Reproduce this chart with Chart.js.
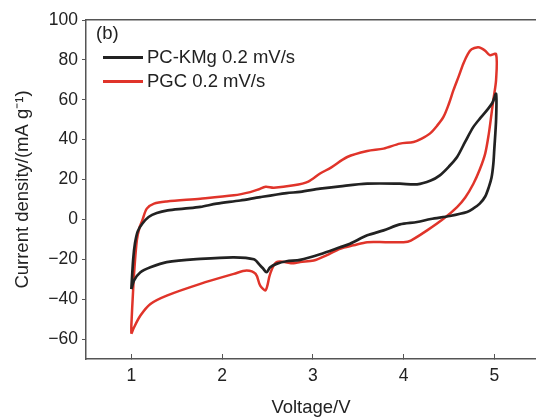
<!DOCTYPE html>
<html>
<head>
<meta charset="utf-8">
<script src="https://cdn.jsdelivr.net/npm/chart.js@4.4.0/dist/chart.umd.min.js"></script>
<style>
  html, body { margin: 0; padding: 0; background: #fff; }
  #wrap { position: relative; width: 536px; height: 419px; }
  .lbl { position: absolute; font-family: 'Liberation Sans', Arial, sans-serif; font-size: 18.5px; color: #222; line-height: 20px; white-space: nowrap; }
  .sw { position: absolute; width: 40px; height: 3px; }
</style>
</head>
<body>
<div id="wrap">
  <canvas id="cv" width="536" height="419"></canvas>
  <div class="lbl" style="left:96px; top:23px;">(b)</div>
  <div class="sw" style="left:103px; top:55.5px; background:#222;"></div>
  <div class="lbl" style="left:147px; top:47px;">PC-KMg 0.2 mV/s</div>
  <div class="sw" style="left:103px; top:79.5px; background:#e0342a;"></div>
  <div class="lbl" style="left:147px; top:71px;">PGC 0.2 mV/s</div>
</div>
<script>
// PC-KMg loop: anodic (upper) then cathodic (lower) branch
const kmgVoltage = [
  1.00, 1.02, 1.04, 1.07, 1.12, 1.19, 1.28, 1.40, 1.58, 1.76, 1.94, 2.20, 2.42, 2.71, 2.86, 3.08,
  3.30, 3.60, 3.96, 4.15, 4.30, 4.40, 4.50, 4.59, 4.68, 4.77, 4.85, 4.92, 4.98, 5.02,
  5.02, 5.00, 4.99, 4.97, 4.94, 4.90, 4.84, 4.77, 4.70, 4.51, 4.30, 4.15, 3.96, 3.78, 3.60, 3.41,
  3.30, 3.08, 2.86, 2.71, 2.60, 2.53, 2.49, 2.45, 2.42, 2.35, 2.13, 1.76, 1.39, 1.21, 1.10, 1.03, 1.00
];
const kmgCurrent = [
  -35, -20, -12, -6, -2.2, 1.2, 3.2, 4.5, 5.4, 6.3, 7.9, 9.5, 11.2, 13.2, 13.8, 15.4,
  16.6, 17.9, 17.9, 17.6, 19.5, 22.1, 26.5, 31.3, 39, 46.4, 51, 54.8, 58.5, 63,
  50, 35, 28, 21, 16.2, 11.5, 7.9, 5.5, 3.7, 1.7, 0.2, -1.3, -2.5, -5.5, -8, -12.2,
  -14, -17.5, -20.3, -21, -22.3, -24, -26.5, -24.5, -23.1, -20, -19, -19.8, -21.4, -24, -26.5, -30.6, -35
];

// PGC loop
const pgcVoltage = [
  1.00, 1.00, 1.02, 1.03, 1.06, 1.09, 1.12, 1.17, 1.25, 1.39, 1.76, 2.13, 2.31, 2.40, 2.48, 2.57,
  2.79, 2.95, 3.08, 3.20, 3.38, 3.60, 3.78, 3.96, 4.11, 4.20, 4.29, 4.37, 4.44, 4.50, 4.55, 4.61,
  4.66, 4.71, 4.75, 4.82, 4.86, 4.90, 4.95, 5.02,
  5.02, 4.99, 4.97, 4.94, 4.90, 4.84, 4.77, 4.68, 4.59, 4.44, 4.26, 4.08, 4.00, 3.80, 3.60, 3.45,
  3.30, 3.15, 3.01, 2.86, 2.79, 2.60, 2.53, 2.48, 2.42, 2.37, 2.27, 2.13, 1.76, 1.39, 1.21, 1.10,
  1.03, 1.00
];
const pgcCurrent = [
  -57.4, -53, -35, -27, -10.6, -4, -0.5, 5.4, 7.9, 9.0, 10.4, 12.1, 13.7, 15, 16.4, 15.9,
  17.1, 19, 23, 26, 31.3, 34.3, 35.5, 38, 38.8, 40.5, 43, 47, 51.4, 58, 64.8, 72,
  78.2, 83, 85.3, 86.3, 85.8, 84.6, 82.4, 82.9,
  70, 60, 53.1, 43, 33, 25, 17.9, 11, 6.2, 0.3, -5.5, -10.6, -11.4, -11.4, -11.4, -13,
  -14.7, -18, -20.6, -21.4, -22, -21.4, -27.3, -35.5, -33.2, -27.3, -25.6, -27.3, -32.3, -38.2, -42.4, -48.2,
  -54.1, -57.4
];

const xTicks = [1, 2, 3, 4, 5];
const yTicks = [-60, -40, -20, 0, 20, 40, 60, 80, 100];

const toPoints = (xs, ys) => xs.map((x, i) => ({ x: x, y: ys[i] }));
const fontFam = "'Liberation Sans', Arial, sans-serif";
const axisColor = '#555';

new Chart(document.getElementById('cv'), {
  type: 'scatter',
  data: {
    datasets: [
      {
        label: 'PC-KMg 0.2 mV/s',
        data: toPoints(kmgVoltage, kmgCurrent),
        showLine: true,
        borderColor: '#222',
        borderWidth: 2.7,
        pointRadius: 0,
        tension: 0.3
      },
      {
        label: 'PGC 0.2 mV/s',
        data: toPoints(pgcVoltage, pgcCurrent),
        showLine: true,
        borderColor: '#e0342a',
        borderWidth: 2.5,
        pointRadius: 0,
        tension: 0.3
      }
    ]
  },
  options: {
    responsive: false,
    animation: false,
    layout: { padding: 0 },
    plugins: { legend: { display: false }, tooltip: { enabled: false } },
    scales: {
      x: {
        type: 'linear',
        position: 'bottom',
        min: 0.5,
        max: 5.46,
        afterBuildTicks: s => { s.ticks = xTicks.map(v => ({ value: v })); },
        afterFit: s => { s.height = 60; },
        ticks: { color: '#222', font: { family: fontFam, size: 17.5 }, padding: 12 },
        grid: { drawOnChartArea: false, drawTicks: true, tickLength: -5, color: axisColor, lineWidth: 1 },
        border: { display: true, color: axisColor, width: 1.5 },
        title: {
          display: true,
          text: 'Voltage/V',
          color: '#222',
          font: { family: fontFam, size: 18.5 },
          padding: { top: 0, bottom: 0 }
        }
      },
      x2: {
        type: 'linear',
        position: 'top',
        min: 0.5,
        max: 5.46,
        afterFit: s => { s.height = 20; },
        ticks: { display: false },
        grid: { display: false },
        border: { display: true, color: axisColor, width: 1.5 }
      },
      y: {
        type: 'linear',
        min: -70,
        max: 100,
        afterBuildTicks: s => { s.ticks = yTicks.map(v => ({ value: v })); },
        afterFit: s => { s.width = 86; },
        ticks: {
          color: '#222',
          font: { family: fontFam, size: 17.5 },
          padding: 4,
          callback: v => (v < 0 ? '\u2212' + Math.abs(v) : String(v))
        },
        grid: { drawOnChartArea: false, drawTicks: true, tickLength: 4, color: axisColor, lineWidth: 1 },
        border: { display: true, color: axisColor, width: 1.5 },
        title: {
          display: true,
          text: 'Current density/(mA g\u207B\u00B9)',
          color: '#222',
          font: { family: fontFam, size: 18.5 },
          padding: { top: 12, bottom: 0 }
        }
      }
    }
  }
});
</script>
</body>
</html>
